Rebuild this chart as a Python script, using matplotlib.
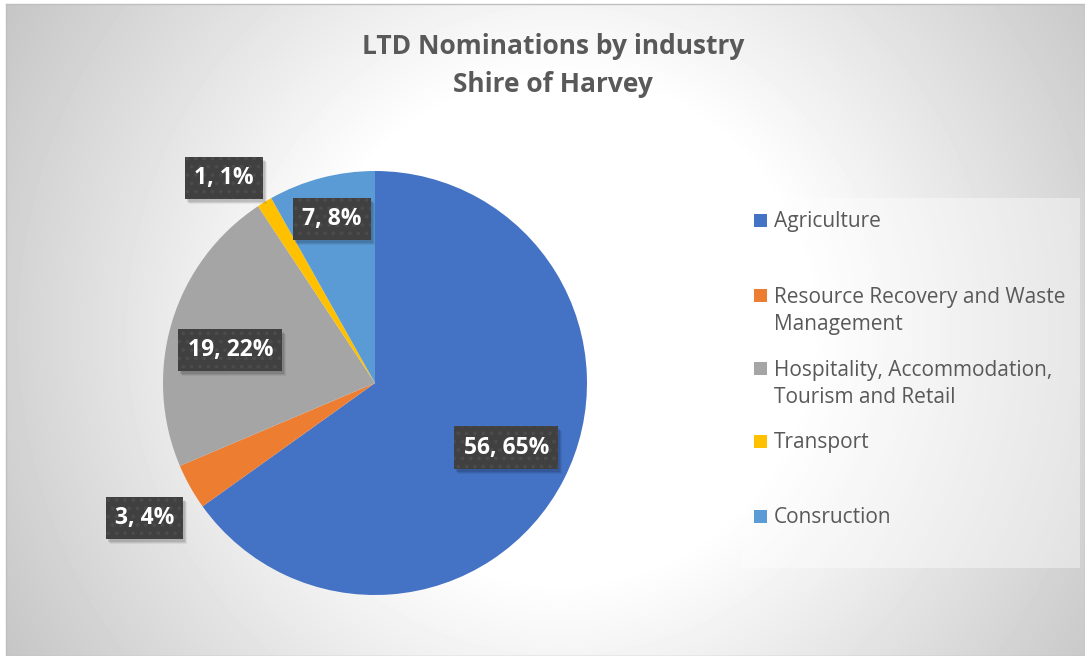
import numpy as np
import matplotlib
matplotlib.use("Agg")
import matplotlib.pyplot as plt
from matplotlib import transforms
from matplotlib.patches import Rectangle

# ---- data ----
categories = ["Agriculture", "Resource Recovery and Waste\nManagement",
              "Hospitality, Accommodation,\nTourism and Retail", "Transport", "Consruction"]
values = [56, 3, 19, 1, 7]
pct_labels = [65, 4, 22, 1, 8]
colors = ["#4472C4", "#ED7D31", "#A5A5A5", "#FFC000", "#5B9BD5"]
title_lines = ["LTD Nominations by industry", "Shire of Harvey"]

plt.rcParams['font.family'] = ['Open Sans', 'DejaVu Sans']
plt.rcParams['hatch.linewidth'] = 1.5

W, H = 1085, 656
fig = plt.figure(figsize=(W / 100, H / 100), dpi=100, facecolor="white")

def px(x, y):
    return x / W, 1 - y / H

# background radial gradient
bg = fig.add_axes([6 / W, 0, (W - 6) / W, (H - 4) / H])
X = np.arange(6, W)
Y = np.arange(4, H)
XX, YY = np.meshgrid(X, Y)
r = np.hypot(XX - 560, YY - 330)
v = np.clip(1 - 0.23 * (r - 250) / 400, 0.77, 1.0)
bg.imshow(v, cmap="gray", vmin=0, vmax=1, aspect="auto", extent=(0, 1, 0, 1), interpolation="bilinear")
bg.set_xticks([]); bg.set_yticks([])
for s in bg.spines.values():
    s.set_color("#bfbfbf"); s.set_linewidth(1)

# title
for ty, line in zip([47, 85], title_lines):
    fig.text(553 / W, 1 - ty / H, line, ha="center", va="center",
             fontsize=19, fontweight="bold", color="#595959")

# pie
cx, cy, R = 375, 383, 212
ax = fig.add_axes([(cx - R) / W, (H - cy - R) / H, 2 * R / W, 2 * R / H])
wedges, _ = ax.pie(values, colors=colors, startangle=90, counterclock=False,
                   wedgeprops=dict(linewidth=0))
ax.set_xlim(-1, 1); ax.set_ylim(-1, 1)
ax.set_facecolor("none")

label_r = [0.69, 1.26, 0.70, 1.20, 0.80]
label_dang = [1, 1, 4, 5, 0]
label_texts = []
for w, val, pct, lr, da in zip(wedges, values, pct_labels, label_r, label_dang):
    ang = np.deg2rad((w.theta1 + w.theta2) / 2 + da)
    x, y = lr * np.cos(ang), lr * np.sin(ang)
    t = ax.text(x, y, f"{val}, {pct}%", ha="center", va="center", fontsize=16.5,
                fontweight="bold", clip_on=False, color="white", zorder=5,
                bbox=dict(boxstyle="square,pad=0.4", fc="#404040", ec="#4b4b4b",
                          lw=0, hatch=".."))
    label_texts.append(t)

# soft shadows behind label boxes
fig.canvas.draw()
renderer = fig.canvas.get_renderer()
for t in label_texts:
    bb = t.get_bbox_patch().get_window_extent(renderer)
    for k, a in [(5, 0.06), (4, 0.08), (3, 0.10)]:
        ax.add_patch(Rectangle((bb.x0 + k - 1, bb.y0 - k), bb.width, bb.height,
                               transform=transforms.IdentityTransform(),
                               fc="black", ec="none", alpha=a, zorder=4, clip_on=False))

# legend
fig.patches.append(Rectangle(px(742, 568), (1080 - 742) / W, (568 - 198) / H,
                             transform=fig.transFigure, fc="white", ec="none", alpha=0.4))
baselines = [227, 302, 375, 448, 523]
pitch = 28
for lab, col, b in zip(categories, colors, baselines):
    fig.patches.append(Rectangle(px(754, b), 13 / W, 13 / H, transform=fig.transFigure,
                                 fc=col, ec="none"))
    nl = lab.count("\n")
    fig.text(774 / W, 1 - (b + pitch * nl) / H, lab, ha="left", va="baseline", fontsize=15,
             color="#595959", linespacing=1.35)

fig.savefig("out.png", dpi=100, facecolor="white")
